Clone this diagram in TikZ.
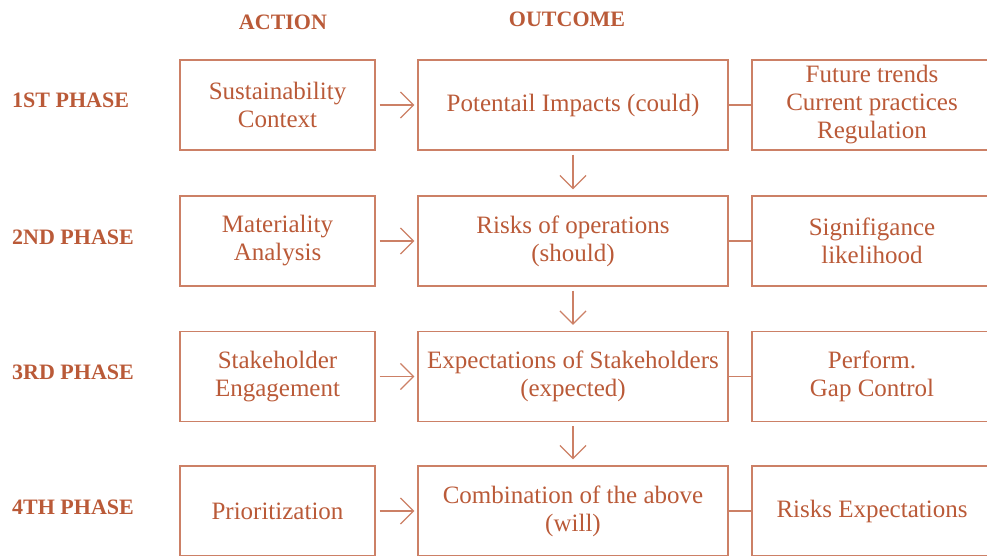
\documentclass[tikz,border=0pt]{standalone}
\usepackage{fontspec}
\setmainfont{Liberation Serif}
\usepackage{xcolor}
\usetikzlibrary{arrows.meta}
\definecolor{rust}{RGB}{186,90,56}
\definecolor{rustline}{RGB}{204,128,102}

\begin{document}
\begin{tikzpicture}[
    x=1pt, y=-1pt,
    cell/.style={draw=rustline, line width=1.3pt, text=rust, align=center, minimum height=90pt, inner sep=2pt, font=\fontsize{25}{28}\selectfont},
    actbox/.style={cell, minimum width=195pt},
    outbox/.style={cell, minimum width=310pt},
    factbox/.style={cell, minimum width=240pt},
    phase/.style={anchor=west, text=rust, inner sep=0pt, font=\fontsize{22}{24}\selectfont\bfseries},
    head/.style={text=rust, inner sep=0pt, font=\fontsize{22}{24}\selectfont\bfseries},
    arr/.style={-{Straight Barb[length=13pt, width=26pt, line width=1.3pt]}, draw=rustline, line width=1.3pt},
    link/.style={draw=rustline, line width=1.3pt}
]
\useasboundingbox (0,0) rectangle (987,556);

% headers
\node[head] (hact) at (283,22) {ACTION};
\node[head] (hout) at (567,19) {OUTCOME};

% phase labels
\node[phase] (p1) at (12,100) {1ST PHASE};
\node[phase] (p2) at (12,237) {2ND PHASE};
\node[phase] (p3) at (12,372) {3RD PHASE};
\node[phase] (p4) at (12,507) {4TH PHASE};

% row 1
\node[actbox] (ctx) at (277.5,105) {Sustainability\\Context};
\node[outbox] (impact) at (573,105) {Potentail Impacts (could)};
\node[factbox] (trends) at (872,105) {Future trends\\Current practices\\Regulation};

% row 2
\node[actbox] (mat) at (277.5,241) {Materiality\\Analysis};
\node[outbox] (risks) at (573,241) {Risks of operations\\(should)};
\node[factbox] (signif) at (872,241) {Signifigance\\likelihood};

% row 3
\node[actbox] (stake) at (277.5,376.5) {Stakeholder\\Engagement};
\node[outbox] (expect) at (573,376.5) {Expectations of Stakeholders\\(expected)};
\node[factbox] (perform) at (872,376.5) {Perform.\\Gap Control};

% row 4
\node[actbox] (prio) at (277.5,511) {Prioritization};
\node[outbox] (combo) at (573,511) {Combination of the above\\(will)};
\node[factbox] (riskexp) at (872,511) {Risks Expectations};

% action -> outcome
\foreach \a/\b in {ctx/impact, mat/risks, stake/expect, prio/combo}
    \draw[arr, shorten <=4pt, shorten >=3pt] (\a) -- (\b);

% outcome -> next outcome
\foreach \a/\b in {impact/risks, risks/expect, expect/combo}
    \draw[arr, shorten <=4pt, shorten >=6pt] (\a) -- (\b);

% outcome -- factors
\foreach \a/\b in {impact/trends, risks/signif, expect/perform, combo/riskexp}
    \draw[link] (\a) -- (\b);

\end{tikzpicture}
\end{document}
